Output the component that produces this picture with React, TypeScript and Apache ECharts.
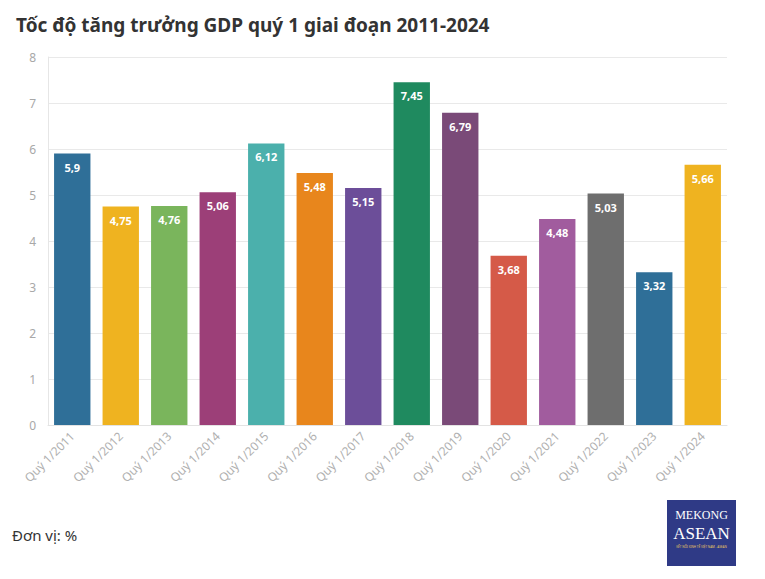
import React, { useEffect, useRef } from "react";
import * as echarts from "echarts";

const categories = [
  "Quý 1/2011", "Quý 1/2012", "Quý 1/2013", "Quý 1/2014", "Quý 1/2015",
  "Quý 1/2016", "Quý 1/2017", "Quý 1/2018", "Quý 1/2019", "Quý 1/2020",
  "Quý 1/2021", "Quý 1/2022", "Quý 1/2023", "Quý 1/2024",
];
const values = [5.9, 4.75, 4.76, 5.06, 6.12, 5.48, 5.15, 7.45, 6.79, 3.68, 4.48, 5.03, 3.32, 5.66];
const barColors = [
  "#2f6f98", "#efb320", "#7ab55c", "#9c3f78", "#4bb0ac", "#e8861c", "#6c4e99",
  "#1f8a5f", "#7a4a78", "#d55a48", "#a15c9e", "#6e6e6e", "#2f6f98", "#efb320",
];

export default function App() {
  const ref = useRef<HTMLDivElement>(null);
  useEffect(() => {
    if (!ref.current) return;
    const chart = echarts.init(ref.current, null, { renderer: "svg" });
    chart.setOption({
      animation: false,
      backgroundColor: "#ffffff",
      title: {
        text: "Tốc độ tăng trưởng GDP quý 1 giai đoạn 2011-2024",
        left: 11,
        top: 10,
        textStyle: { fontFamily: "Noto Sans", fontSize: 19, fontWeight: "bold", color: "#333333" },
      },
      grid: { left: 48, right: 38, top: 57, bottom: 154, containLabel: false },
      xAxis: {
        type: "category",
        data: categories,
        axisLine: { lineStyle: { color: "#e3e3e3" } },
        axisTick: { alignWithLabel: true, length: 5, lineStyle: { color: "#dddddd" } },
        axisLabel: {
          rotate: 45,
          interval: 0,
          color: "#b0b0b0",
          fontFamily: "Noto Sans",
          fontSize: 12,
          margin: 9,
        },
      },
      yAxis: {
        type: "value",
        min: 0,
        max: 8,
        interval: 1,
        axisLine: { show: true, lineStyle: { color: "#e6e6e6" } },
        axisTick: { show: false },
        splitLine: { lineStyle: { color: "#e9e9e9" } },
        axisLabel: { color: "#a8a8a8", fontFamily: "Noto Sans", fontSize: 12, margin: 12 },
      },
      series: [
        {
          type: "bar",
          data: values.map((v, i) => ({ value: v, itemStyle: { color: barColors[i] } })),
          barCategoryGap: "25%",
          label: {
            show: true,
            position: "insideTop",
            distance: 8,
            color: "#ffffff",
            fontWeight: "bold",
            fontFamily: "Noto Sans",
            fontSize: 11,
            formatter: (p: any) => String(p.value).replace(".", ","),
          },
        },
      ],
      graphic: [
        {
          type: "text",
          left: 12,
          top: 527,
          style: { text: "Đơn vị: %", fontFamily: "Noto Sans", fontSize: 15, fill: "#333333" },
        },
        {
          type: "group",
          left: 667,
          top: 500,
          children: [
            { type: "rect", shape: { x: 0, y: 0, width: 69, height: 66 }, style: { fill: "#2f3a86" } },
            {
              type: "text",
              x: 34.5,
              y: 15,
              style: {
                text: "MEKONG",
                fill: "#ffffff",
                fontFamily: "Liberation Serif",
                fontSize: 12,
                align: "center",
                verticalAlign: "middle",
              },
            },
            {
              type: "text",
              x: 34.5,
              y: 33,
              style: {
                text: "ASEAN",
                fill: "#ffffff",
                fontFamily: "Liberation Serif",
                fontSize: 17,
                align: "center",
                verticalAlign: "middle",
              },
            },
            {
              type: "text",
              x: 34.5,
              y: 47,
              style: {
                text: "KẾT NỐI KINH TẾ VIỆT NAM - ASEAN",
                fill: "#e8c860",
                fontFamily: "Noto Sans",
                fontSize: 3,
                align: "center",
                verticalAlign: "middle",
              },
            },
          ],
        },
      ],
    });
    return () => chart.dispose();
  }, []);
  return (
    <div
      ref={ref}
      style={{ position: "absolute", left: 0, top: 0, width: 765, height: 579 }}
    />
  );
}
